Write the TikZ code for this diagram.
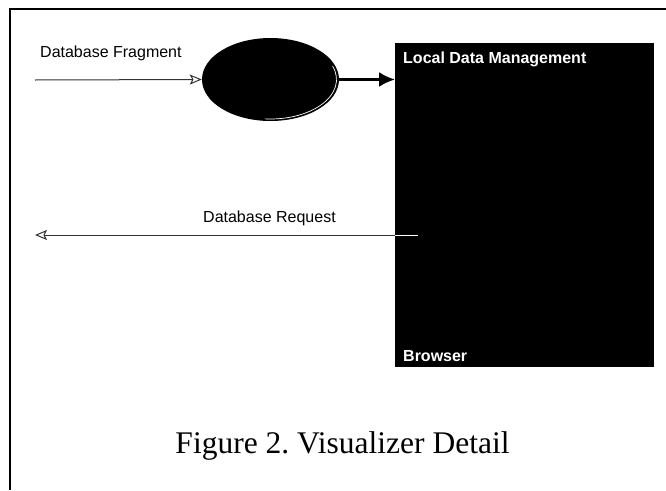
\documentclass[tikz,border=0pt]{standalone}
\usepackage{fontspec}
\setmainfont{Liberation Serif}
\setsansfont{Liberation Sans}
\usetikzlibrary{arrows.meta, shapes.geometric}

\begin{document}
\begin{tikzpicture}[x=1pt, y=-1pt,
	labeltext/.style={font=\sffamily\fontsize{16}{18}\selectfont, inner sep=0pt, anchor=base west},
	boxtext/.style={labeltext, text=white, font=\sffamily\bfseries\fontsize{16}{18}\selectfont},
	flow/.style={black!80, line width=1pt, -{Stealth[open, length=12pt, width=10pt, inset=2.5pt]}}]
	% параметры
	\def\W{666} % ширина рисунка
	\def\H{490} % высота рисунка

	\useasboundingbox (0,0) rectangle (\W,\H);

	% рамка: только левая и верхняя линии
	\draw[line width=1.5pt] (10,\H) -- (10,9) -- (\W,9);

	% чёрный эллипс с бликом снизу справа
	\node (viz) at (270.5,79.5) [ellipse, fill=black, minimum width=137pt, minimum height=83pt, inner sep=0pt] {};
	\draw[white, line width=0.7pt] (270.5,79.5) ++(-20:66 and 39.5) arc (-20:95:66 and 39.5);

	% чёрный блок
	\node (box) at (395,43) [anchor=north west, fill=black, minimum width=259pt, minimum height=324pt, inner sep=0pt] {};
	\node[boxtext] (boxtop) at (403,63) {Local Data Management};
	\node[boxtext] (boxbot) at (403,361) {Browser};

	% подписи стрелок
	\node[labeltext] (fraglabel) at (40,57) {Database Fragment};
	\node[labeltext] (reqlabel) at (203,222) {Database Request};

	% стрелки
	\coordinate (fragstart) at (35,80);
	\coordinate (reqstart) at (418,235);
	\coordinate (reqend) at (35,235);
	\draw[flow] (fragstart) -- (viz.west);
	\draw[line width=2.5pt, -{Latex[length=16pt, width=15pt]}] (viz.east) -- (box.west |- viz.east);
	\draw[flow] (reqstart) -- (reqend);
	\draw[white, line width=1pt] (reqstart) -- (box.west |- reqstart);

	% подпись рисунка
	\node[font=\fontsize{31.5}{36}\selectfont, inner sep=0pt, anchor=base] (caption) at (342.5,453) {Figure 2.\ Visualizer Detail};
\end{tikzpicture}
\end{document}
